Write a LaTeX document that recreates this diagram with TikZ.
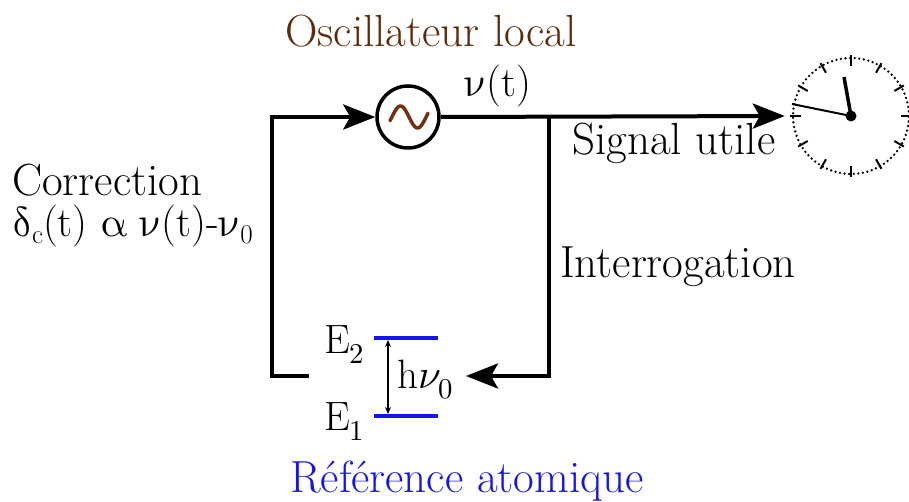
\documentclass[tikz,border=0pt]{standalone}
\usepackage{fontspec}
\usepackage{unicode-math}
\setmathfont{Latin Modern Math}
\usetikzlibrary{arrows.meta,calc}
\definecolor{oscbrown}{RGB}{92,42,12}
\definecolor{wavebrown}{RGB}{110,52,18}
\definecolor{refblue}{RGB}{20,20,235}
\newcommand{\gnu}{$\symup{\nu}$}
\newcommand{\gdelta}{$\symup{\delta}$}
\newcommand{\galpha}{$\symup{\alpha}$}
\newcommand{\lowsub}[1]{\raisebox{-7pt}{\fontsize{27}{30}\selectfont #1}}
\tikzset{
  wire/.style={line width=4pt},
  bigtip/.style={-{Stealth[length=32pt,width=25pt,inset=7pt]}},
  lbl/.style={anchor=base west, inner sep=0pt, font=\fontsize{45}{50}\selectfont},
  glbl/.style={anchor=base west, inner sep=0pt, font=\fontsize{42}{46}\selectfont},
  mlbl/.style={anchor=base west, inner sep=0pt, font=\fontsize{41}{46}\selectfont},
  level/.style={line width=4pt, refblue},
  tick/.style={line width=2pt},
}
\begin{document}
\begin{tikzpicture}[x=1pt,y=-1pt]
\useasboundingbox (0,0) rectangle (909,502);

% oscillator
\node[circle, draw, line width=3.5pt, minimum size=62pt, inner sep=0pt] (osc) at (408,117) {};
\draw[wavebrown, line width=3.5pt, line cap=round]
  plot[domain=-20:380, samples=50] ({390+(\x+20)/400*38},{117-11*sin(\x)});

% clock
\node[circle, minimum size=132pt, inner sep=0pt] (clock) at (851,116) {};
\draw[line width=2.6pt, line cap=round, dash pattern=on 0pt off 4.6pt] (clock.center) circle[radius=58pt];
\foreach \a in {0,30,...,330}
  \draw[tick] ($(clock.center)+(\a:50pt)$) -- ($(clock.center)+(\a:61pt)$);
\coordinate (hourend) at (844,77);
\coordinate (minend) at (792,104);
\draw[line width=3.5pt] (clock.center) -- (hourend);
\draw[line width=2pt] (clock.center) -- (minend);
\fill (clock.center) circle[radius=5.5pt];

% corners
\coordinate (bl) at (309,376);
\coordinate (blc) at (272,376);
\coordinate (tlc) at (272,117);
\coordinate (branch) at (549,117);
\coordinate (brc) at (549,376);
\coordinate (arrin) at (466,376);

% wires
\draw[wire, bigtip] (bl) -- (blc) -- (tlc) -- (osc.west);
\draw[wire, bigtip] (osc.east) -- (clock.west);
\draw[wire, bigtip] (branch) -- (brc) -- (arrin);

% energy levels
\coordinate (e2l) at (374,338); \coordinate (e2r) at (438,338);
\coordinate (e1l) at (374,416); \coordinate (e1r) at (438,416);
\draw[level] (e2l) -- (e2r);
\draw[level] (e1l) -- (e1r);
\coordinate (hvtop) at (388,340);
\coordinate (hvbot) at (388,414);
\draw[line width=1.2pt, {Stealth[length=7pt,width=6pt]}-{Stealth[length=7pt,width=6pt]}] (hvtop) -- (hvbot);

% labels
\node[lbl, text=oscbrown] (osclab) at (285,47) {Oscillateur local};
\node[glbl] (nut) at (465,97) {\gnu(t)};
\node[lbl] (sig) at (572,155) {Signal utile};
\node[lbl] (interr) at (560,277) {Interrogation};
\node[lbl] (corr) at (12,196) {Correction};
\node[glbl] (corrf) at (12,237) {\gdelta\lowsub{c}(t)\hspace{0.3em}\galpha\hspace{0.3em}\gnu(t)-\gnu\lowsub{0}};
\node[lbl, text=refblue] (ref) at (290,492) {Référence atomique};
\node[mlbl] (E2) at (324,353) {$\mathrm{E}_2$};
\node[mlbl] (E1) at (324,430) {$\mathrm{E}_1$};
\node[mlbl] (hnu) at (397,388) {$\mathrm{h}\nu_0$};
\end{tikzpicture}
\end{document}
